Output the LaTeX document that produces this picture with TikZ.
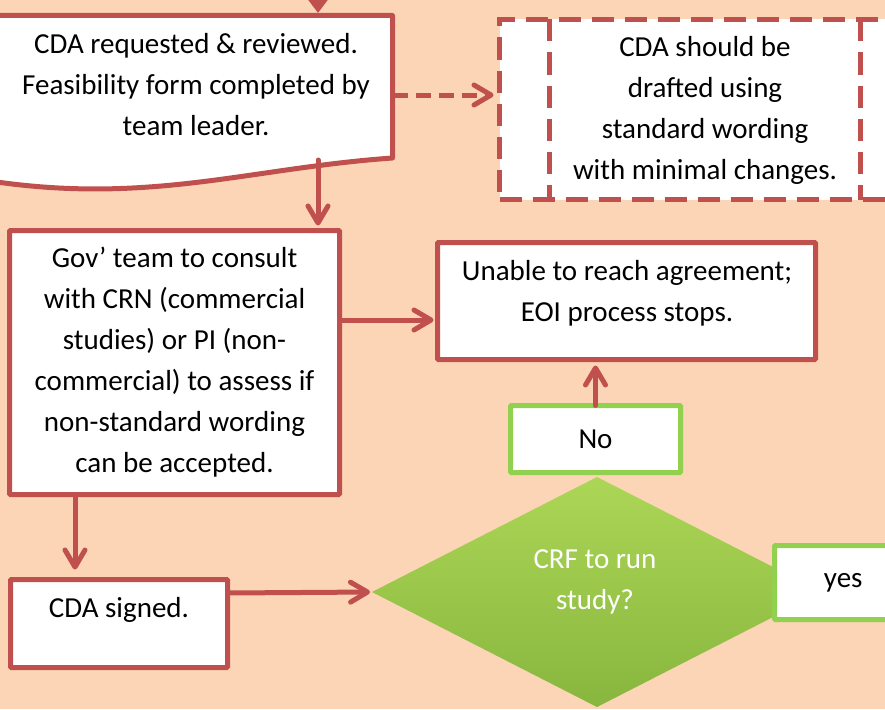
\documentclass[tikz,border=0pt]{standalone}
\usepackage{fontspec}
\setmainfont{Carlito}
\usetikzlibrary{arrows.meta,shapes.geometric,calc}
\definecolor{bg}{RGB}{251,213,181}
\definecolor{redl}{RGB}{192,80,77}
\definecolor{grn}{RGB}{146,208,80}
\definecolor{dtop}{RGB}{172,214,86}
\definecolor{dbot}{RGB}{136,182,62}
\begin{document}
\begin{tikzpicture}[x=1pt,y=-1pt,
  txt/.style={font=\fontsize{29}{41}\selectfont, align=center, inner sep=0pt},
  redbox/.style={draw=redl, line width=5pt, fill=white, rounded corners=1pt, inner sep=0pt, outer sep=0pt},
  grnbox/.style={draw=grn, line width=5pt, fill=white, rounded corners=1pt, inner sep=0pt, outer sep=0pt, txt},
  arr/.style={draw=redl, line width=5pt, line cap=round, -{Straight Barb[length=17pt,width=20pt,round]}},
  darr/.style={draw=redl, line width=5pt, -{Straight Barb[length=17pt,width=20pt,round]}},
  farr/.style={draw=redl, line width=5pt, -{Triangle[length=14pt,width=20pt]}},
]
\useasboundingbox (0,0) rectangle (885,709);
\clip (0,0) rectangle (885,709);
\fill[bg] (0,0) rectangle (885,709);

% document box (wavy bottom)
\draw[redl, line width=5pt, fill=white, line join=round]
  (-10,15.5) -- (392.5,15.5) -- (392.5,158)
  .. controls (250,168) and (150,205) .. (-10,181) -- cycle;
\node[txt] (doc) at (196,84.5) {CDA requested \& reviewed.\\Feasibility form completed by\\team leader.};
\coordinate (topin) at (318,-12);
\coordinate (docT) at (318,13);
\coordinate (docR) at (392.5,95);
\coordinate (docB) at (318,160);

% dashed predefined-process box
\node[draw=redl, line width=5pt, fill=white, dash pattern=on 22pt off 11pt,
      minimum width=412.5pt, minimum height=180pt, inner sep=0pt, outer sep=0pt]
  (dash) at (705.75,109.5) {};
\draw[redl, line width=5pt, dash pattern=on 22pt off 11pt] (549,19.5) -- (549,199.5);
\draw[redl, line width=5pt, dash pattern=on 22pt off 11pt] (860,19.5) -- (860,199.5);
\node[txt] (dasht) at (705,110) {CDA should be\\drafted using\\standard wording\\with minimal changes.};

% Gov box
\node[redbox, minimum width=330pt, minimum height=264pt, txt] (gov) at (174.5,362.5)
  {Gov’ team to consult\\with CRN (commercial\\studies) or PI (non-\\commercial) to assess if\\non-standard wording\\can be accepted.};

% Unable box
\node[redbox, minimum width=378pt, minimum height=117pt] (unable) at (626.5,301) {};
\node[txt] (unablet) at (627,293.5) {Unable to reach agreement;\\EOI process stops.};

% CDA signed
\node[redbox, minimum width=217pt, minimum height=88pt] (signed) at (119,623.5) {};
\node[txt] (signedt) at (119,610) {CDA signed.};

% decision diamond
\node[diamond, minimum width=450pt, minimum height=230pt, inner sep=0pt, outer sep=0pt,
      top color=dtop, bottom color=dbot, draw=none] (dec) at (597,592) {};
\node[txt, text=white] (dect) at (595,582) {CRF to run\\study?};

% No / yes
\node[grnbox, minimum width=170pt, minimum height=67pt] (no) at (595.5,439) {No};
\node[grnbox, minimum width=137.5pt, minimum height=74pt] (yes) at (843.25,582.5) {yes};

% connectors
\draw[farr] (topin) -- (docT);
\draw[darr, dash pattern=on 15pt off 8pt, shorten >=6pt] (docR) -- (docR -| dash.west);
\draw[arr, shorten >=5pt] (docB) -- (docB |- gov.north);
\draw[arr, shorten >=4pt] (gov.east |- 0,320) -- (unable.west |- 0,320);
\draw[arr, shorten >=6pt] (no.north) -- (no.north |- unable.south);
\draw[arr, shorten >=10pt] (gov.south -| 75,0) -- (signed.north -| 75,0);
\draw[arr, shorten >=2pt] (signed.east |- 0,593) -- (dec.west);
\end{tikzpicture}
\end{document}
